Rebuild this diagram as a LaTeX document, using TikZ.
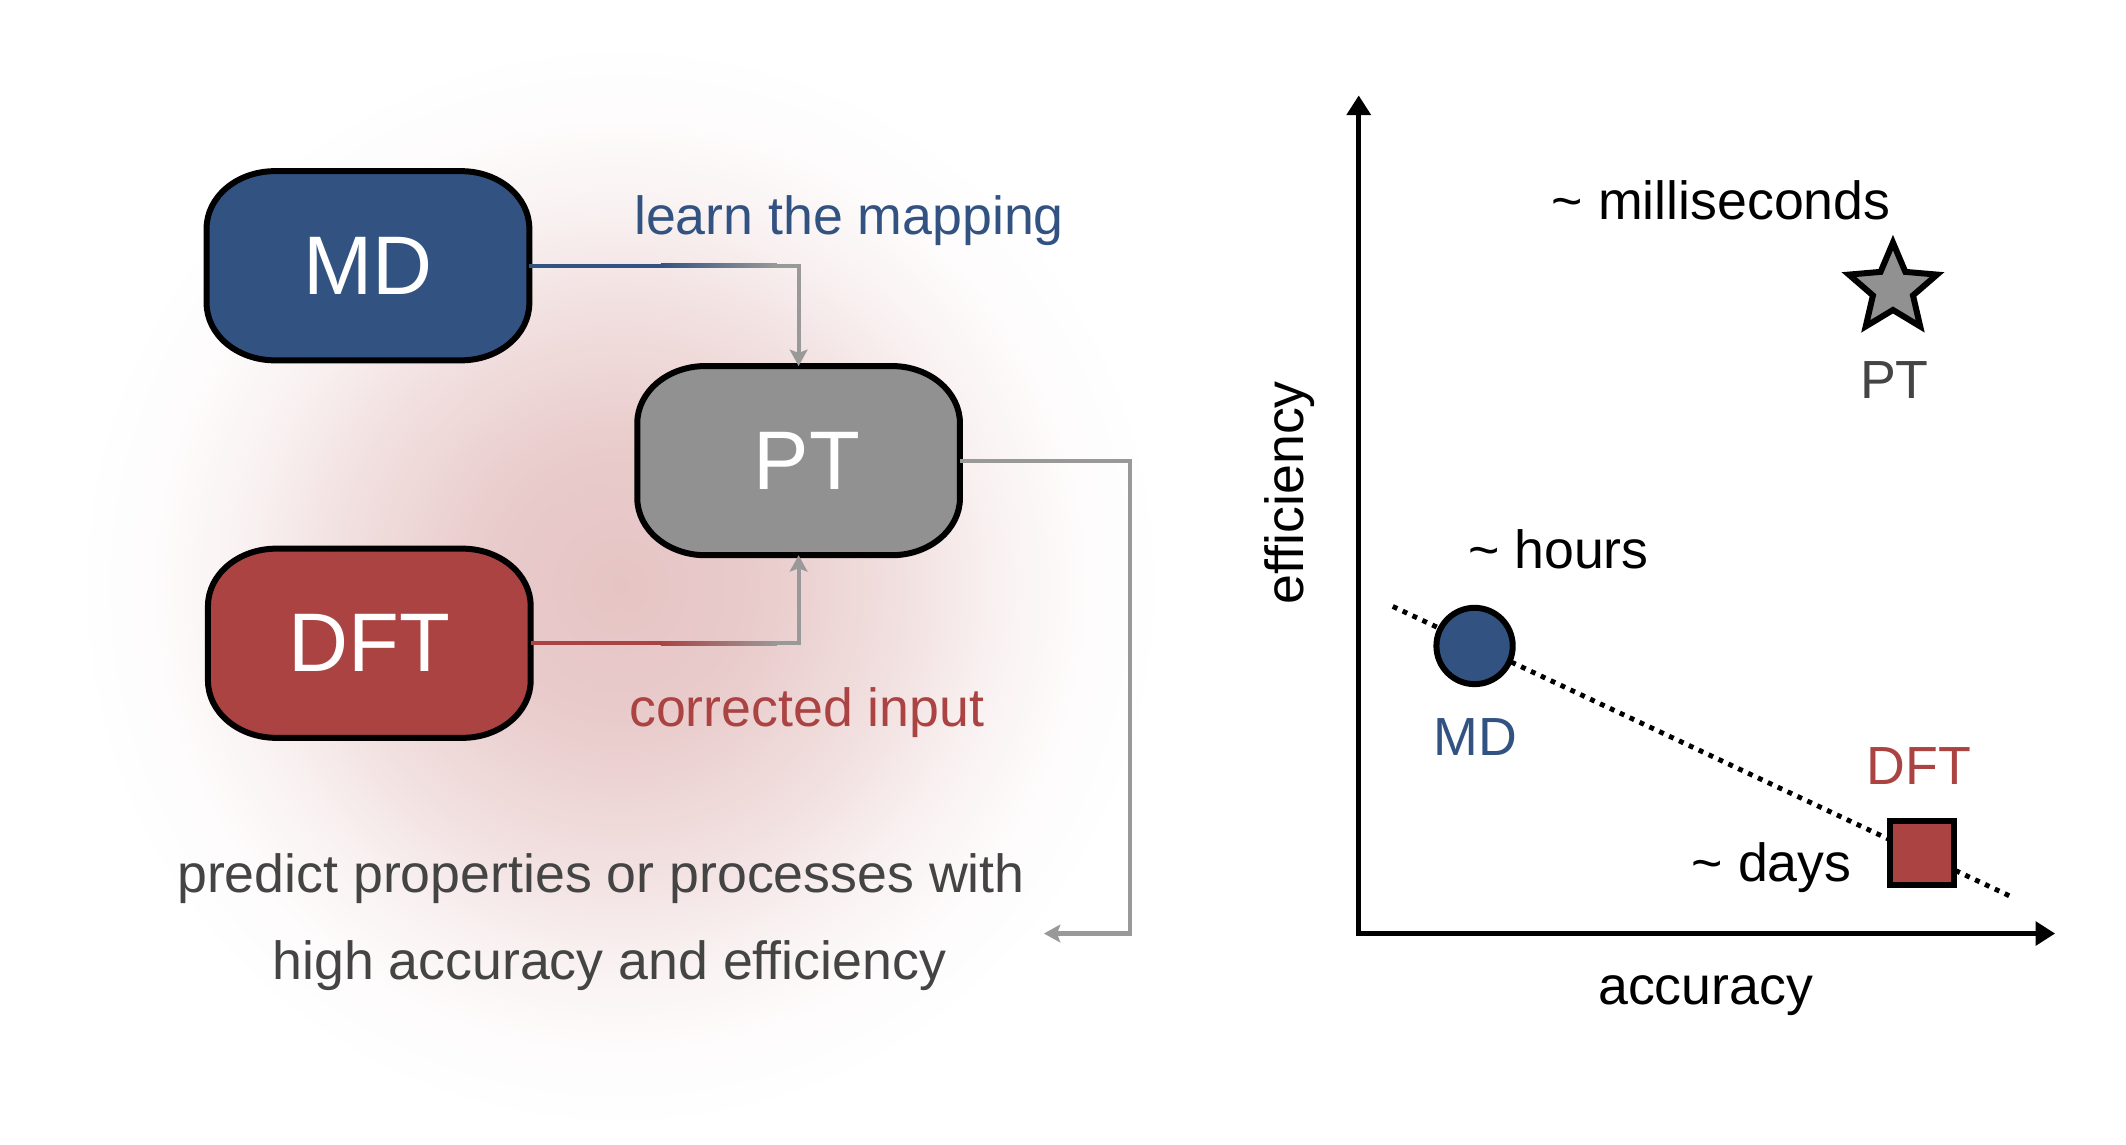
\documentclass[tikz,border=0pt]{standalone}
\usepackage{fontspec}
\setmainfont{Liberation Sans}
\usetikzlibrary{arrows.meta,shapes.geometric}
\definecolor{mdblue}{HTML}{325382}
\definecolor{dftred}{HTML}{AB4343}
\definecolor{ptgray}{HTML}{919191}
\definecolor{conngray}{HTML}{999999}
\definecolor{txtgray}{HTML}{444444}
\definecolor{glowc}{HTML}{E6C4C4}
\pgfdeclareradialshading{glowshade}{\pgfpoint{0bp}{0bp}}{color(0bp)=(glowc); color(6.25bp)=(glowc!88!white); color(12.5bp)=(glowc!55!white); color(17.5bp)=(glowc!22!white); color(21.25bp)=(glowc!6!white); color(25bp)=(white); color(50bp)=(white)}
\pgfdeclarelayer{glowlayer}
\pgfdeclarelayer{boxlayer}
\pgfsetlayers{glowlayer,boxlayer,main}
\newcommand\ellbox[2]{%
  \filldraw[fill=#2, draw=black, line width=2.2pt]
    ([xshift=25pt]#1.north west) -- ([xshift=-25pt]#1.north east)
    arc[start angle=90, end angle=0, x radius=25pt, y radius=21pt]
    -- ([yshift=21pt]#1.south east)
    arc[start angle=0, end angle=-90, x radius=25pt, y radius=21pt]
    -- ([xshift=25pt]#1.south west)
    arc[start angle=270, end angle=180, x radius=25pt, y radius=21pt]
    -- ([yshift=-21pt]#1.north west)
    arc[start angle=180, end angle=90, x radius=25pt, y radius=21pt]
    -- cycle;}
\begin{document}
\begin{tikzpicture}[x=0.5pt,y=-0.5pt,
  lbl/.style={font=\fontsize{19.7pt}{23pt}\selectfont, inner sep=0pt},
  boxnode/.style={minimum width=118pt, minimum height=69pt, inner sep=0pt, text=white, font=\fontsize{30.5pt}{36pt}\selectfont},
  conn/.style={draw=conngray, line width=1.5pt, -{Stealth[length=6pt,width=6.5pt,inset=1.2pt]}},
  axisline/.style={line width=1.8pt, {Triangle[length=7.2pt,width=8.6pt]}-{Triangle[length=7.2pt,width=8.6pt]}},
  markbox/.style={draw=black, line width=2.2pt, inner sep=0pt}]
\useasboundingbox (0,0) rectangle (1560,840);
\begin{pgfonlayer}{glowlayer}
  \fill[white] (0,0) rectangle (1560,840);
  \shade[shading=glowshade] (455,430) circle (200pt);
\end{pgfonlayer}
% boxes
\node[boxnode] (MD) at (270,195) {MD};
\node[boxnode] (PT) at (586,338) {\hspace*{6pt}PT};
\node[boxnode] (DFT) at (271,472) {DFT};
\begin{pgfonlayer}{boxlayer}
  \ellbox{MD}{mdblue}
  \ellbox{PT}{ptgray}
  \ellbox{DFT}{dftred}
\end{pgfonlayer}
% connectors
\draw[conn] (MD.east) -| (PT.north);
\coordinate (mdfa) at (485,195);
\coordinate (mdfb) at (570,195);
\draw[mdblue, line width=1.5pt] (MD.east) -- (mdfa);
\shade[left color=mdblue, right color=conngray] ([yshift=-0.75pt]mdfa) rectangle ([yshift=0.75pt]mdfb);
\draw[conn] (DFT.east) -| (PT.south);
\coordinate (dffa) at (485,472);
\coordinate (dffb) at (570,472);
\draw[dftred, line width=1.5pt] (DFT.east) -- (dffa);
\shade[left color=dftred, right color=conngray] ([yshift=-0.75pt]dffa) rectangle ([yshift=0.75pt]dffb);
\coordinate (outc) at (829,685);
\coordinate (outend) at (766,685);
\draw[conn] (PT.east) -| (outc) -- (outend);
% left labels
\node[lbl, text=mdblue, anchor=base] (learn) at (623,172) {learn the mapping};
\node[lbl, text=dftred, anchor=base] (corr) at (592,533) {corrected input};
\node[lbl, text=txtgray, anchor=base] (pred1) at (441,655) {predict properties or processes with};
\node[lbl, text=txtgray, anchor=base] (pred2) at (447,719) {high accuracy and efficiency};
% plot
\coordinate (O) at (997,685);
\coordinate (ytip) at (997,70);
\coordinate (xtip) at (1508,685);
\draw[axisline] (ytip) -- (O) -- (xtip);
\coordinate (dA) at (1022,445);
\coordinate (dB) at (1478,659);
\draw[line width=1.8pt, dash pattern=on 1.8pt off 2.2pt] (dA) -- (dB);
\node[markbox, circle, fill=mdblue, minimum size=28pt] (mdc) at (1082,474) {};
\node[markbox, rectangle, fill=dftred, minimum size=23.5pt] (dfts) at (1410,626) {};
\node[markbox, star, star points=5, star point ratio=2.2, minimum size=34pt, fill=ptgray] (ptstar) at (1389,212) {};
\node[lbl, anchor=base] (ms) at (1263,161) {\textasciitilde\ milliseconds};
\node[lbl, anchor=base] (hours) at (1143.5,417) {\textasciitilde\ hours};
\node[lbl, anchor=base] (days) at (1300,647) {\textasciitilde\ days};
\node[lbl, anchor=base] (acc) at (1251.5,737) {accuracy};
\node[lbl, rotate=90] (eff) at (946,361.5) {efficiency};
\node[lbl, text=txtgray] (ptl) at (1390,279) {PT};
\node[lbl, text=mdblue] (mdl) at (1082.5,541) {MD};
\node[lbl, text=dftred] (dftl) at (1408,562) {DFT};
\end{tikzpicture}
\end{document}
